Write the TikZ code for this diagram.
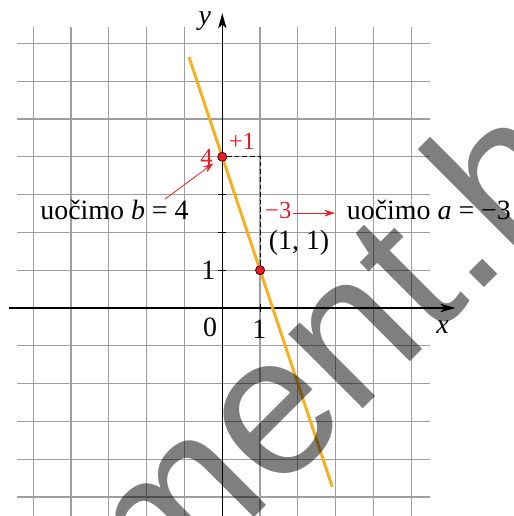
\documentclass[tikz,border=0pt]{standalone}
\usepackage{fontspec}
\setmainfont{Liberation Serif}
\newfontfamily\wmfont{Liberation Sans}
\usetikzlibrary{arrows.meta}
\definecolor{gridgray}{RGB}{158,158,158}
\definecolor{lineorange}{RGB}{247,176,27}
\definecolor{labred}{RGB}{237,28,36}
\begin{document}
\begin{tikzpicture}[x=1cm,y=1cm,
  gridline/.style={draw=gridgray, line width=0.9pt},
  axisline/.style={draw=black, line width=0.8pt, -{Stealth[length=4mm,width=2.2mm,inset=1mm]}},
  tickline/.style={draw=black, line width=0.8pt},
  lbl/.style={font=\fontsize{21}{25}\selectfont, inner sep=0pt},
  redlbl/.style={font=\fontsize{18.5}{22}\selectfont, text=labred, inner sep=0pt},
  reddot/.style={circle, fill=labred, draw=black!80!red, line width=0.6pt, minimum size=2.4mm, inner sep=0pt},
  helperline/.style={draw=black, line width=0.6pt, dash pattern=on 3.5pt off 2.2pt},
  redarrow/.style={draw=labred, line width=0.6pt, -{Stealth[length=2.8mm,width=1.8mm]}},
  graphline/.style={draw=lineorange, line width=2.2pt},
  wmark/.style={font=\wmfont\fontsize{150}{155}\selectfont, text=black, text opacity=0.5, inner sep=0pt, anchor=base west, rotate=45},
]
\useasboundingbox (-5.881,-5.503) rectangle (7.717,8.148);
% grid
\foreach \y in {-5,...,7} \draw[gridline] (-5.42,\y) -- (5.49,\y);
\foreach \x in {-5,...,5} \draw[gridline] (\x,-5.6) -- (\x,7.43);
% helper coordinates
\coordinate (C) at (1,4);
\coordinate (xl) at (-5.65,0);
\coordinate (xr) at (6.17,0);
\coordinate (yb) at (0,-5.6);
\coordinate (yt) at (0,7.8);
% axes
\draw[axisline] (xl) -- (xr);
\draw[axisline] (yb) -- (yt);
\foreach \y in {1,2,3} \draw[tickline] (-0.11,\y) -- (0.11,\y);
\draw[tickline] (1,-0.11) -- (1,0.11);
% graph
\coordinate (g1) at (-0.88,6.64);
\coordinate (g2) at (2.91,-4.73);
\draw[graphline] (g1) -- (g2);
\node[reddot] (B) at (0,4) {};
\node[reddot] (P) at (1,1) {};
\draw[helperline] (B) -- (C) -- (P);
% labels
\node[lbl] (ylab) at (-0.46,7.6) {\textit{y}};
\node[lbl] (xlab) at (5.83,-0.51) {\textit{x}};
\node[lbl] (zero) at (-0.32,-0.5) {0};
\node[lbl] (onex) at (0.98,-0.57) {1};
\node[lbl] (oney) at (-0.37,1.0) {1};
\node[lbl] (Plab) at (2.03,1.72) {(1, 1)};
\node[redlbl] (four) at (-0.42,3.98) {4};
\node[redlbl] (plus) at (0.52,4.4) {+1};
\node[redlbl, anchor=base] (mthree) at (1.48,2.37) {−3};
\node[lbl, anchor=base west] (btext) at (-4.82,2.33) {uočimo \textit{b} = 4};
\node[lbl, anchor=base west] (atext) at (3.29,2.33) {uočimo \textit{a} = −3};
% red arrows
\coordinate (bs) at (-1.52,2.88);
\draw[redarrow, shorten >=0.16cm] (bs) -- (B);
\coordinate (a1) at (1.88,2.51);
\coordinate (a2) at (2.98,2.51);
\draw[redarrow] (a1) -- (a2);
% watermark
\node[wmark] (wm) at (-1.70,-8.10) {ment.hr};
\end{tikzpicture}
\end{document}
